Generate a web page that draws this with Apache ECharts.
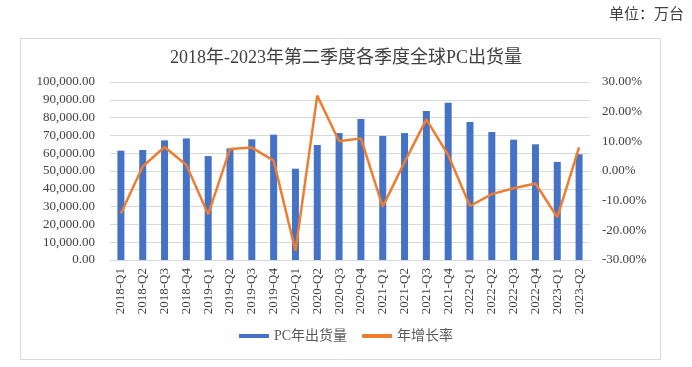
<!DOCTYPE html>
<html><head><meta charset="utf-8">
<script src="https://cdn.jsdelivr.net/npm/echarts@6/dist/echarts.min.js"></script>
<style>html,body{margin:0;padding:0;background:#fff}#c{width:692px;height:367px}</style>
</head><body><div id="c"></div>
<script>
const categories = ['2018-Q1','2018-Q2','2018-Q3','2018-Q4','2019-Q1','2019-Q2','2019-Q3','2019-Q4','2020-Q1','2020-Q2','2020-Q3','2020-Q4','2021-Q1','2021-Q2','2021-Q3','2021-Q4','2022-Q1','2022-Q2','2022-Q3','2022-Q4','2023-Q1','2023-Q2'];
const shipments = [61400,61800,67200,68300,58400,62700,67800,70400,51300,64600,71300,79200,69700,71300,83700,88400,77500,71900,67600,65000,55100,59400];
const growth = [-14.3,1.5,8.1,2.0,-14.6,7.4,7.9,3.5,-26.9,25.4,10.0,11.0,-12.0,3.0,17.4,5.4,-11.8,-7.8,-5.8,-4.2,-15.6,8.0];
const titleText = '2018年-2023年第二季度各季度全球PC出货量';
const unitText = '单位：万台';
const seriesNames = ['PC年出货量','年增长率'];

const FONT = '"Liberation Serif","Noto Sans CJK SC",serif';
const chart = echarts.init(document.getElementById('c'));
chart.setOption({
  animation:false,
  textStyle:{fontFamily:FONT},
  title:{text:titleText,left:'center',top:44,textStyle:{fontFamily:FONT,fontSize:18,fontWeight:'normal',color:'#404040'}},
  graphic:[
    {type:'rect',shape:{x:20.5,y:38.5,width:640,height:321},style:{fill:'none',stroke:'#d9d9d9',lineWidth:1}},
    {type:'text',right:8,top:8,style:{text:unitText,font:'15px '+FONT,fill:'#404040'}}
  ],
  legend:{bottom:19,left:'center',itemGap:15,textStyle:{fontFamily:FONT,fontSize:14,color:'#595959'},
    data:[{name:seriesNames[0],icon:'rect'},{name:seriesNames[1],icon:'rect',itemStyle:{}}],itemWidth:30,itemHeight:4},
  grid:{left:110,right:102,top:82,bottom:107},
  xAxis:{type:'category',data:categories,axisTick:{show:false},axisLine:{lineStyle:{color:'#d9d9d9'}},
    axisLabel:{rotate:90,interval:0,fontSize:13,color:'#404040',fontFamily:FONT,margin:8}},
  yAxis:[
    {type:'value',min:0,max:100000,interval:10000,splitLine:{lineStyle:{color:'#d9d9d9'}},axisLine:{show:false},axisTick:{show:false},
     axisLabel:{fontSize:13,color:'#404040',fontFamily:FONT,margin:15,formatter:v=>v.toLocaleString('en-US',{minimumFractionDigits:2,maximumFractionDigits:2})}},
    {type:'value',min:-30,max:30,interval:10,splitLine:{show:false},axisLine:{show:false},axisTick:{show:false},
     axisLabel:{fontSize:13,color:'#404040',fontFamily:FONT,margin:12,formatter:v=>v.toFixed(2)+'%'}}
  ],
  series:[
    {name:seriesNames[0],type:'bar',data:shipments,barWidth:7,itemStyle:{color:'#4472C4'}},
    {name:seriesNames[1],type:'line',yAxisIndex:1,data:growth,symbol:'none',lineStyle:{color:'#ED7D31',width:2.5},itemStyle:{color:'#ED7D31'}}
  ]
});
</script></body></html>
